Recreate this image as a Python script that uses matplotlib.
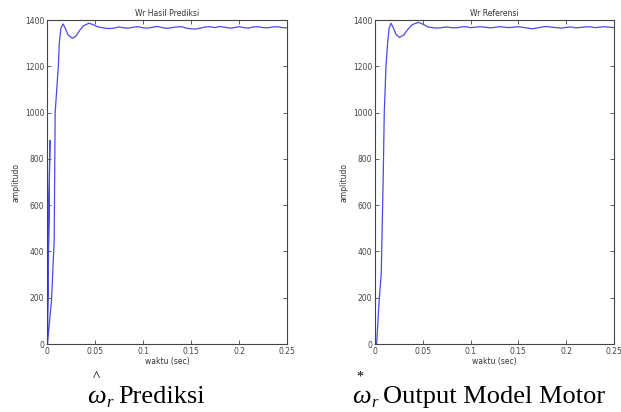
import matplotlib
matplotlib.use("Agg")
import matplotlib.pyplot as plt

# ---------------- data ----------------
x_ticks = [0, 0.05, 0.1, 0.15, 0.2, 0.25]
x_tick_labels = ["0", "0.05", "0.1", "0.15", "0.2", "0.25"]
y_ticks = [0, 200, 400, 600, 800, 1000, 1200, 1400]

titles = ["Wr Hasil Prediksi", "Wr Referensi"]
xlabel = "waktu (sec)"
ylabel = "amplitudo"

# transient part, left (prediction)
t_pred_start = [0, 0.0030, 0.0005, 0.0047, 0.0075, 0.0085, 0.0118, 0.0128, 0.0145,
                0.0167, 0.019, 0.022, 0.0264, 0.030, 0.034, 0.038, 0.0437, 0.048, 0.052]
w_pred_start = [0, 880, 0, 190, 450, 1000, 1200, 1300, 1365,
                1383, 1365, 1335, 1321, 1330, 1355, 1375, 1386, 1380, 1372]

# transient part, right (reference)
t_ref_start = [0, 0.0017, 0.0045, 0.0065, 0.0085, 0.0097, 0.0115, 0.0132, 0.0148,
               0.0167, 0.019, 0.022, 0.0255, 0.030, 0.034, 0.039, 0.0455, 0.050, 0.054]
w_ref_start = [0, 0, 200, 300, 700, 1000, 1200, 1300, 1365,
               1386, 1368, 1338, 1325, 1335, 1358, 1380, 1390, 1382, 1374]

# steady-state part (shared time stamps)
t_steady = [0.055, 0.060, 0.065, 0.070, 0.075, 0.080, 0.085, 0.090, 0.095, 0.100,
            0.105, 0.110, 0.115, 0.120, 0.125, 0.130, 0.135, 0.140, 0.145, 0.150,
            0.155, 0.160, 0.165, 0.170, 0.175, 0.180, 0.185, 0.190, 0.195, 0.200,
            0.205, 0.210, 0.215, 0.220, 0.225, 0.230, 0.235, 0.240, 0.245, 0.250]
w_pred_steady = [1369, 1365, 1363, 1365, 1370, 1366, 1365, 1369, 1371, 1366,
                 1365, 1369, 1372, 1367, 1364, 1367, 1370, 1371, 1365, 1362,
                 1361, 1365, 1370, 1371, 1367, 1372, 1369, 1365, 1367, 1371,
                 1367, 1365, 1370, 1371, 1367, 1366, 1370, 1371, 1367, 1366]
w_ref_steady = [1370, 1367, 1365, 1367, 1370, 1367, 1366, 1370, 1371, 1367,
                1369, 1371, 1369, 1366, 1368, 1371, 1369, 1367, 1369, 1371,
                1368, 1365, 1362, 1366, 1370, 1372, 1369, 1367, 1365, 1368,
                1370, 1366, 1368, 1370, 1371, 1367, 1369, 1371, 1369, 1367]

# ---------------- figure ----------------
W, H = 621, 412
fig = plt.figure(figsize=(W / 100, H / 100), dpi=100)
fig.patch.set_facecolor("white")

def px_rect(x0, x1, ytop, ybot):
    return [x0 / W, 1 - ybot / H, (x1 - x0) / W, (ybot - ytop) / H]

axes_rects = [px_rect(47, 287, 20, 344), px_rect(375, 614, 20, 344)]
series = [(t_pred_start + t_steady, w_pred_start + w_pred_steady),
          (t_ref_start + t_steady, w_ref_start + w_ref_steady)]

line_color = "#4a4ae6"
axis_color = "#444444"
tick_color = "#444444"

for rect, title, (tt, ww) in zip(axes_rects, titles, series):
    ax = fig.add_axes(rect)
    ax.plot(tt, ww, color=line_color, lw=0.9)
    ax.set_xlim(0, 0.25)
    ax.set_ylim(0, 1400)
    ax.set_xticks(x_ticks)
    ax.set_xticklabels(x_tick_labels)
    ax.set_yticks(y_ticks)
    ax.tick_params(direction="in", length=3, width=0.6, top=True, right=True,
                   labelsize=5.5, colors=axis_color, labelcolor=tick_color, pad=2)
    for sp in ax.spines.values():
        sp.set_color(axis_color)
        sp.set_linewidth(0.8)
    ax.set_title(title, fontsize=5.5, color="#333333", pad=3)
    ax.set_xlabel(xlabel, fontsize=5.5, color="#333333", labelpad=1)
    ax.set_ylabel(ylabel, fontsize=5.5, color="#333333", labelpad=3)

serif = "Liberation Serif"

def ftext(x, y, s, **kw):
    fig.text(x / W, 1 - y / H, s, family=serif, color="black", **kw)

# left caption
ftext(87, 403, "ω", fontsize=19, style="italic", va="baseline", ha="left")
ftext(106, 407, "r", fontsize=12, style="italic", va="baseline", ha="left")
ftext(96, 371, "^", fontsize=11, va="top", ha="center")
ftext(118, 403, "Prediksi", fontsize=19, va="baseline", ha="left")

# right caption
ftext(352, 403, "ω", fontsize=19, style="italic", va="baseline", ha="left")
ftext(371, 407, "r", fontsize=12, style="italic", va="baseline", ha="left")
ftext(360, 371, "*", fontsize=10, va="top", ha="center")
ftext(383, 403, "Output Model Motor", fontsize=19, va="baseline", ha="left")

fig.savefig("out.png", dpi=100, facecolor="white")
